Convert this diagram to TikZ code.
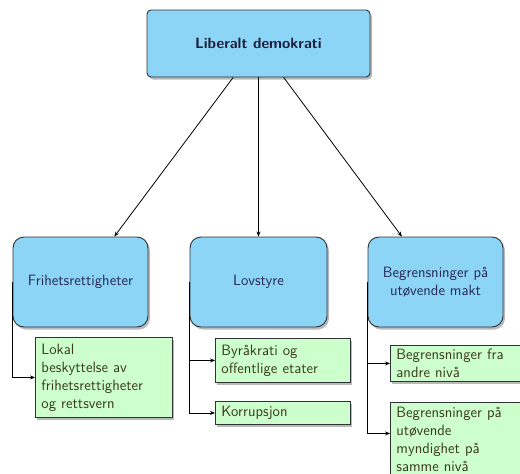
\documentclass[tikz,border=0pt]{standalone}
\usetikzlibrary{arrows.meta,shadows,positioning}
\definecolor{boxblue}{HTML}{8DD5F7}
\definecolor{boxgreen}{HTML}{CCFFCC}
\definecolor{edgegray}{HTML}{2E3236}
\definecolor{bluetext}{HTML}{262A55}
\definecolor{greentext}{HTML}{3A3A1C}
\begin{document}
\begin{tikzpicture}[x=1pt,y=-1pt,
  font=\fontsize{15}{18}\selectfont\sffamily,
  shade/.style={drop shadow={shadow xshift=2pt,shadow yshift=-2.5pt,fill=black!45,opacity=0.6}},
  topbox/.style={shade,draw=edgegray,line width=0.9pt,fill=boxblue,rounded corners=4pt,
    minimum width=223pt,minimum height=67pt,inner sep=0pt,text=bluetext!70!black,font=\fontsize{15}{18}\selectfont\sffamily\bfseries},
  areabox/.style={shade,draw=edgegray,line width=0.9pt,fill=boxblue,rounded corners=11pt,
    minimum height=90pt,inner sep=0pt,align=center,text=bluetext},
  itembox/.style={shade,draw=edgegray,line width=0.9pt,fill=boxgreen,anchor=north west,
    inner xsep=6pt,inner ysep=0pt,align=left,text=greentext},
  link/.style={draw=black,line width=0.8pt,-{Stealth[length=5pt,width=4pt]}}
]
\useasboundingbox (0,0) rectangle (520,474);
\clip (0,0) rectangle (520,474);

% top level
\node[topbox] (root) at (258.5,43.5) {Liberalt demokrati};

% three areas
\node[areabox,minimum width=135pt] (frihet) at (80.5,282) {Frihetsrettigheter};
\node[areabox,minimum width=137pt] (lov) at (258.5,282) {Lovstyre};
\node[areabox,minimum width=135pt] (begr) at (435.5,282) {Begrensninger på\\utøvende makt};

% items under each area
\node[itembox,text width=125pt,minimum height=80pt] (lokal) at (35,337)
  {Lokal\\beskyttelse av\\frihetsrettigheter\\og rettsvern};
\node[itembox,text width=123pt,minimum height=44pt] (byr) at (215,338)
  {Byråkrati og\\offentlige etater};
\node[itembox,text width=123pt,minimum height=23pt] (korr) at (215,401)
  {Korrupsjon};
\node[itembox,text width=125pt,minimum height=36pt] (andre) at (390,345)
  {Begrensninger fra\\andre nivå};
\node[itembox,text width=125pt,minimum height=74pt] (samme) at (390,402)
  {Begrensninger på\\utøvende\\myndighet på\\samme nivå};

% connectors
\draw[link] (root) -- (frihet);
\draw[link] (root) -- (lov);
\draw[link] (root) -- (begr);
\draw[link] (frihet.west) |- (lokal.west);
\draw[link] (lov.west) |- (byr.west);
\draw[link] (lov.west) |- (korr.west);
\draw[link] (begr.west) |- (andre.west);
\draw[link] (begr.west) |- ([yshift=6pt]samme.west);
\end{tikzpicture}
\end{document}
